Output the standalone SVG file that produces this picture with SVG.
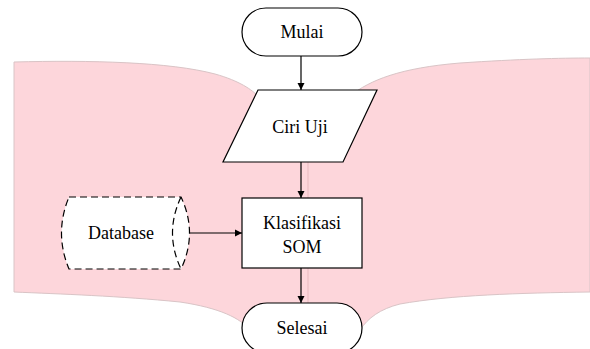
<svg xmlns="http://www.w3.org/2000/svg" width="590" height="349" viewBox="0 0 590 349">
  <defs>
    <marker id="arrow" viewBox="0 0 10 10" refX="10" refY="5" markerWidth="7" markerHeight="8" markerUnits="userSpaceOnUse" orient="auto">
      <path d="M0,0 L10,5 L0,10 Z" fill="#000"/>
    </marker>
    <style>
      .shape { fill: #fff; stroke: #000; stroke-width: 1.2; }
      .dashed { stroke-dasharray: 7 4; }
      .label { font-family: "Liberation Serif", "Times New Roman", serif; font-size: 18px; fill: #000; text-anchor: middle; }
      .edge { stroke: #000; stroke-width: 1.2; fill: none; marker-end: url(#arrow); }
    </style>
  </defs>

  <!-- pink open-book backdrop -->
  <path d="M14,62 C 90,60 170,62 215,74 C 240,81 252,90 258,96 L 350,96 C 370,80 400,68 460,63 C 520,59 560,58 590,58 L 590,292 C 520,293 450,295 400,304 C 380,309 368,318 360,330 L 250,330 C 240,318 220,308 180,302 C 120,296 60,294 14,292 Z" fill="#fdd6db" stroke="#d9c4c6" stroke-width="1"/>
  <line x1="308" y1="162" x2="308" y2="303" stroke="#e8b9bf" stroke-width="1"/>

  <g id="connectors">
    <line class="edge" x1="301" y1="56" x2="301" y2="90"/>
    <line class="edge" x1="301" y1="162" x2="301" y2="198"/>
    <line class="edge" x1="190" y1="233" x2="242" y2="233"/>
    <line class="edge" x1="301" y1="268" x2="301" y2="303"/>
  </g>

  <g id="mulai">
    <rect class="shape" x="242" y="8" width="120" height="48" rx="24"/>
    <text class="label" x="302" y="38">Mulai</text>
  </g>

  <g id="ciri-uji">
    <polygon class="shape" points="258,90 377,90 343,162 223,162"/>
    <text class="label" x="300" y="133">Ciri Uji</text>
  </g>

  <g id="database">
    <path class="shape dashed" d="M69,197 L181,197 Q198,233 181,269 L69,269 Q54,233 69,197 Z"/>
    <path class="shape dashed" d="M181,197 Q164,233 181,269" fill="none"/>
    <text class="label" x="121" y="239">Database</text>
  </g>

  <g id="klasifikasi">
    <rect class="shape" x="242" y="198" width="120" height="70"/>
    <text class="label" x="302" y="229">Klasifikasi</text>
    <text class="label" x="302" y="253">SOM</text>
  </g>

  <g id="selesai">
    <rect class="shape" x="242" y="303" width="120" height="50" rx="25"/>
    <text class="label" x="302" y="334">Selesai</text>
  </g>
</svg>
